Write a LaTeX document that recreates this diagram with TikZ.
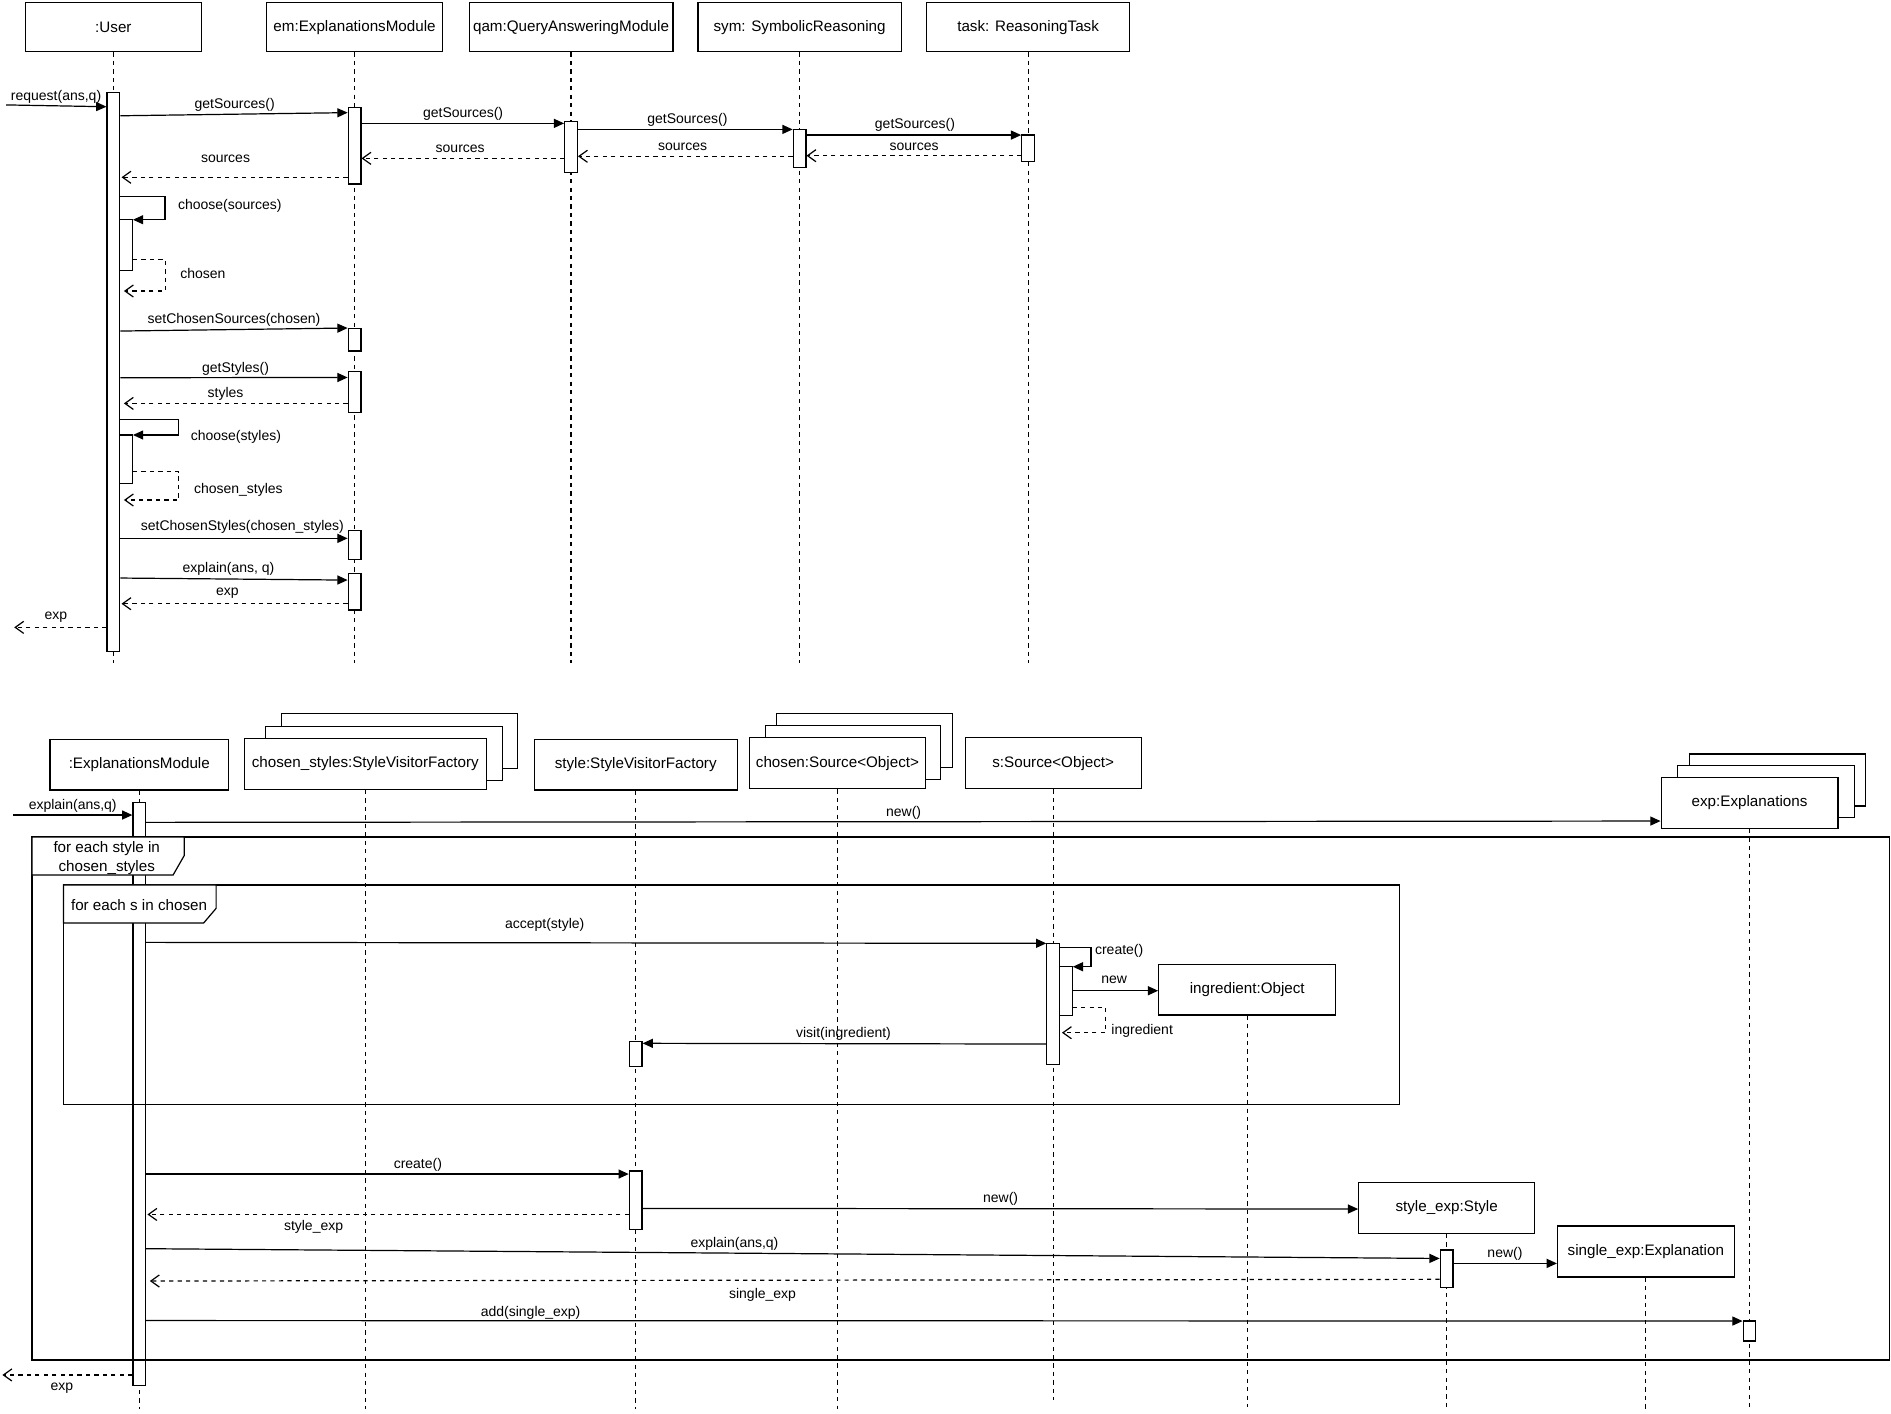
\documentclass[tikz,border=0pt]{standalone}
\usepackage{fontspec}
\setmainfont{Liberation Sans}
\usetikzlibrary{arrows.meta,fit}
\tikzset{
  obj/.style={draw, fill=white, line width=1pt, inner sep=0pt, font=\fontsize{12.6}{15}\selectfont},
  act/.style={draw, fill=white, line width=1pt, inner sep=0pt},
  life/.style={draw, line width=1pt, dash pattern=on 3.5pt off 3.5pt},
  msg/.style={draw, line width=1pt, -{Triangle[length=8.5pt,width=7.5pt]}},
  ret/.style={draw, line width=1pt, dash pattern=on 3.5pt off 3.5pt, -{Straight Barb[length=7pt,width=10pt]}},
  lbl/.style={inner sep=0pt, yshift=-1.5pt, font=\fontsize{11.6}{14}\selectfont},
  frm/.style={draw, line width=1pt},
  flbl/.style={inner sep=0pt, yshift=-1.5pt, font=\fontsize{12.6}{15.5}\selectfont, align=center},
}
\newcommand{\actbar}[5]{\path (#2,#3) coordinate (#1-a) (#4,#5) coordinate (#1-b); \node[act, fit=(#1-a)(#1-b)] (#1) {};}
\begin{document}
\begin{tikzpicture}[x=1pt,y=-1pt]
\useasboundingbox (0,0) rectangle (1568,1172);

% ---------------- TOP DIAGRAM ----------------
\node[obj, minimum width=146pt, minimum height=41pt] (user) at (94,22.5) {:User};
\node[obj, minimum width=146pt, minimum height=41pt] (em) at (294,22.5) {em:ExplanationsModule};
\node[obj, minimum width=169pt, minimum height=41pt] (qam) at (473.5,22.5) {qam:QueryAnsweringModule};
\node[obj, minimum width=168.5pt, minimum height=41pt] (sym) at (663,22.5) {sym: SymbolicReasoning};
\node[obj, minimum width=168pt, minimum height=41pt] (task) at (852.5,22.5) {task: ReasoningTask};

\foreach \n in {user,em,qam,sym,task} \draw[life] (\n.south) -- (\n.south |- 0,550);

\actbar{uA}{88.75}{76.8}{99.25}{540}
\actbar{emAa}{288.75}{89.3}{299.25}{152.6}
\actbar{qamA}{468.25}{100.9}{478.75}{142.9}
\actbar{symA}{657.75}{107.3}{668.25}{138.8}
\actbar{taskA}{847.25}{112}{857.75}{134}
\actbar{uAb}{99.25}{182.2}{109.75}{224}
\actbar{emAb}{288.75}{272.3}{299.25}{291}
\actbar{emAc}{288.75}{308.2}{299.25}{341.9}
\actbar{uAc}{99.25}{360.7}{109.75}{400.8}
\actbar{emAd}{288.75}{439.8}{299.25}{463.8}
\actbar{emAe}{288.75}{475.4}{299.25}{505.8}

\coordinate (reqS) at (5,87);
\draw[msg] (reqS) -- (uA.west |- 0,88.5);
\node[lbl] (t1) at (46.5,79) {request(ans,q)};

\draw[msg] (uA.east |- 0,96) -- (emAa.west |- 0,93.4);
\node[lbl] (t2) at (194.6,85.7) {getSources()};
\draw[msg] (emAa.east |- 0,102.3) -- (qamA.west |- 0,102.3);
\node[lbl] (t3) at (384,93) {getSources()};
\draw[msg] (qamA.east |- 0,107.3) -- (symA.west |- 0,107.3);
\node[lbl] (t4) at (570,98) {getSources()};
\draw[msg] (symA.east |- 0,112) -- (taskA.west |- 0,112);
\node[lbl] (t5) at (758.7,102.3) {getSources()};

\draw[ret] (taskA.west |- 0,129.1) -- (symA.east |- 0,129.1);
\node[lbl] (t6) at (758,120.2) {sources};
\draw[ret] (symA.west |- 0,129.6) -- (qamA.east |- 0,129.6);
\node[lbl] (t7) at (566,120.2) {sources};
\draw[ret] (qamA.west |- 0,131.3) -- (emAa.east |- 0,131.3);
\node[lbl] (t8) at (381.6,122.2) {sources};
\draw[ret] (emAa.west |- 0,147) -- ([xshift=1pt]uA.east |- 0,147);
\node[lbl] (t9) at (187,130.5) {sources};

\draw[msg] (uA.east |- 0,163) -- ++(37,0) |- (uAb.east |- 0,182.2);
\node[lbl] (t10) at (190.5,169.4) {choose(sources)};
\draw[ret] (uAb.east |- 0,215.3) -- ++(27,0) |- ([xshift=3pt]uA.east |- 0,241.3);
\node[lbl] (t11) at (168.2,225.3) {chosen};

\draw[msg] (uA.east |- 0,274.5) -- (emAb.west |- 0,272);
\node[lbl] (t12) at (194,264) {setChosenSources(chosen)};
\draw[msg] (uA.east |- 0,313.2) -- (emAc.west |- 0,313);
\node[lbl] (t13) at (195.3,304) {getStyles()};
\draw[ret] (emAc.west |- 0,334.5) -- ([xshift=3pt]uA.east |- 0,334.5);
\node[lbl] (t14) at (187,324.8) {styles};

\draw[msg] (uA.east |- 0,347.7) -- ++(48.5,0) |- (uAc.east |- 0,360.7);
\node[lbl] (t15) at (195.6,360.7) {choose(styles)};
\draw[ret] (uAc.east |- 0,391.1) -- ++(38,0) |- ([xshift=3pt]uA.east |- 0,414.6);
\node[lbl] (t16) at (197.7,405) {chosen\_styles};

\draw[msg] (uA.east |- 0,446.4) -- (emAd.west |- 0,446.4);
\node[lbl] (t17) at (201,435.4) {setChosenStyles(chosen\_styles)};
\draw[msg] (uA.east |- 0,479.3) -- (emAe.west |- 0,481);
\node[lbl] (t18) at (189.5,470.4) {explain(ans, q)};
\draw[ret] (emAe.west |- 0,500.6) -- ([xshift=1pt]uA.east |- 0,500.6);
\node[lbl] (t19) at (188.5,490.6) {exp};
\coordinate (expOutA) at (11.8,520.2);
\draw[ret] (uA.west |- 0,520.2) -- (expOutA);
\node[lbl] (t20) at (46.3,510.2) {exp};

% ---------------- BOTTOM DIAGRAM ----------------
\draw[frm, fill=white] (233.1,591.5) rectangle (429.2,637.1);
\draw[frm, fill=white] (220.2,602.6) rectangle (416.8,647.3);
\draw[frm, fill=white] (643.7,591.5) rectangle (790,636.3);
\draw[frm, fill=white] (634.5,601.7) rectangle (780.1,646.5);
\draw[frm, fill=white] (1400.7,625.2) rectangle (1546.8,668.4);
\draw[frm, fill=white] (1391,635) rectangle (1537.4,678);

\node[obj, minimum width=148pt, minimum height=42pt] (emB) at (115.5,634) {:ExplanationsModule};
\node[obj, minimum width=200.6pt, minimum height=42.3pt] (csB) at (302.9,633.4) {chosen\_styles:StyleVisitorFactory};
\node[obj, minimum width=168.4pt, minimum height=42.2pt] (stB) at (527.1,634) {style:StyleVisitorFactory};
\node[obj, minimum width=145.9pt, minimum height=42.3pt] (chB) at (694.4,632.9) {chosen:Source<Object>};
\node[obj, minimum width=145.8pt, minimum height=42.3pt] (sB) at (873.3,632.9) {s:Source<Object>};
\node[obj, minimum width=146.6pt, minimum height=42.2pt] (expB) at (1450.7,665.7) {exp:Explanations};

\foreach \n in {emB,csB,stB,chB,expB} \draw[life] (\n.south) -- (\n.south |- 0,1168);
\draw[life] (sB.south) -- (sB.south |- 0,1161);

\actbar{emBA}{110.25}{665.3}{120.75}{1149}
\actbar{sAa}{868.05}{782.2}{878.55}{882.6}
\actbar{sAb}{878.55}{801.6}{889.05}{842.2}
\actbar{stAa}{521.85}{863.8}{532.35}{884.5}
\actbar{stAb}{521.85}{971}{532.35}{1019.7}

% frames
\draw[frm] (26.5,694.1) rectangle (1566.5,1127.7);
\draw[frm, fill=white] (26.5,694.1) -- (26.5,725.6) -- (143.5,725.6) -- (152.7,709.5) -- (152.7,694.1) -- cycle;
\node[flbl] (f1) at (88.5,710) {for each style in\\chosen\_styles};
\draw[frm] (52.7,733.8) rectangle (1160.3,915.7);
\draw[frm, fill=white] (52.7,733.8) -- (52.7,765.4) -- (168.8,765.4) -- (179.2,753.2) -- (179.2,733.8) -- cycle;
\node[flbl] (f2) at (115.3,749) {for each s in chosen};

\coordinate (inS) at (10.9,675.8);
\draw[msg] (inS) -- (emBA.west |- 0,675.8);
\node[lbl] (b1) at (60.3,667) {explain(ans,q)};
\draw[msg] (emBA.east |- 0,681.9) -- (expB.west |- 0,680.8);
\node[lbl] (b2) at (749.3,672.2) {new()};

\draw[msg] (emBA.east |- 0,781.4) -- (sAa.west |- 0,782.2);
\node[lbl] (b3) at (451.7,765.6) {accept(style)};
\draw[msg] (sAa.east |- 0,785.5) -- ++(25.6,0) |- (sAb.east |- 0,801.6);
\node[lbl] (b4) at (928,787.2) {create()};

\node[obj, minimum width=146.8pt, minimum height=42.1pt] (ingB) at (1034.2,820.65) {ingredient:Object};
\draw[life] (ingB.south) -- (ingB.south |- 0,1167);
\draw[msg] (sAb.east |- 0,821.5) -- (ingB.west |- 0,821.5);
\node[lbl] (b5) at (923.8,811.2) {new};
\draw[ret] (sAb.east |- 0,835.3) -- ++(27.3,0) |- ([xshift=1.5pt]sAa.east |- 0,856.3);
\node[lbl, anchor=west] (b6) at (921.4,853.5) {ingredient};
\draw[msg] (sAa.west |- 0,865.7) -- (stAa.east |- 0,865.1);
\node[lbl] (b7) at (699.4,856) {visit(ingredient)};

\node[obj, minimum width=145.7pt, minimum height=42pt] (seB) at (1199.5,1001.7) {style\_exp:Style};
\node[obj, minimum width=146.4pt, minimum height=42.3pt] (sgB) at (1364.7,1037.75) {single\_exp:Explanation};
\draw[life] (seB.south) -- (seB.south |- 0,1170);
\draw[life] (sgB.south) -- (sgB.south |- 0,1168);
\actbar{seA}{1194.25}{1036.5}{1204.75}{1067.7}
\actbar{expA}{1445.45}{1095.4}{1455.95}{1112}

\draw[msg] (emBA.east |- 0,973.5) -- (stAb.west |- 0,973.5);
\node[lbl] (b8) at (346.5,964.1) {create()};
\draw[ret] (stAb.west |- 0,1007) -- ([xshift=1pt]emBA.east |- 0,1007);
\node[lbl] (b9) at (260,1016) {style\_exp};
\draw[msg] (stAb.east |- 0,1002) -- (seB.west |- 0,1002.5);
\node[lbl] (b10) at (829.7,992.8) {new()};
\draw[msg] (emBA.east |- 0,1035.4) -- (seA.west |- 0,1043.5);
\node[lbl] (b11) at (609,1029.6) {explain(ans,q)};
\draw[msg] (seA.east |- 0,1047.6) -- (sgB.west |- 0,1047.6);
\node[lbl] (b12) at (1247.9,1037.9) {new()};
\draw[ret] (seA.west |- 0,1060.8) -- ([xshift=3pt]emBA.east |- 0,1062.2);
\node[lbl] (b13) at (632.3,1072.4) {single\_exp};
\draw[msg] (emBA.east |- 0,1095) -- (expA.west |- 0,1095.4);
\node[lbl] (b14) at (440,1087) {add(single\_exp)};
\coordinate (expOutB) at (2,1140.1);
\draw[ret] (emBA.west |- 0,1140.1) -- (expOutB);
\node[lbl] (b15) at (51.4,1149.3) {exp};
\end{tikzpicture}
\end{document}
